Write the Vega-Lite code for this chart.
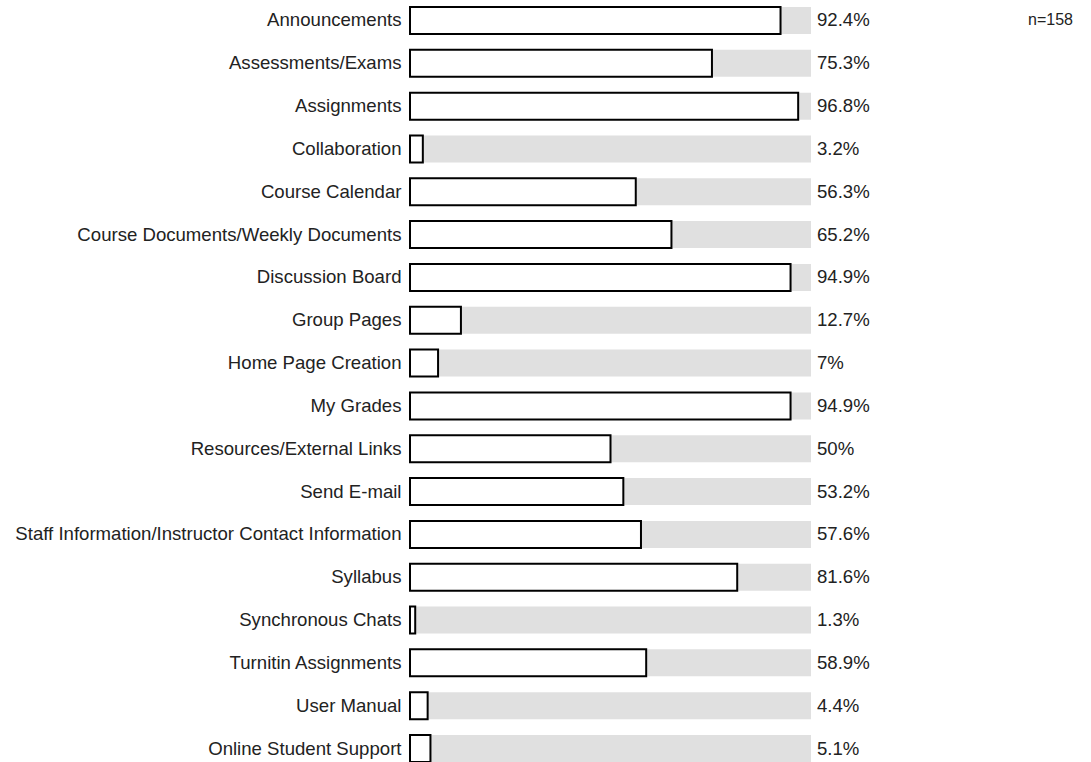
{
  "$schema": "https://vega.github.io/schema/vega-lite/v6.json",
  "autosize": "none",
  "width": 401,
  "height": 755,
  "padding": {"left": 410, "top": 7, "right": 280, "bottom": 0},
  "background": "white",
  "title": {"text": "n=158", "anchor": "end", "frame": "group", "orient": "top", "fontSize": 16, "fontWeight": "normal", "font": "Liberation Sans", "color": "#222", "dx": 262, "dy": 34, "baseline": "middle"},
  "config": {"view": {"stroke": null}, "font": "Liberation Sans"},
  "data": {"values": [
    {"item": "Announcements", "pct": 0.924},
    {"item": "Assessments/Exams", "pct": 0.753},
    {"item": "Assignments", "pct": 0.968},
    {"item": "Collaboration", "pct": 0.032},
    {"item": "Course Calendar", "pct": 0.563},
    {"item": "Course Documents/Weekly Documents", "pct": 0.652},
    {"item": "Discussion Board", "pct": 0.949},
    {"item": "Group Pages", "pct": 0.127},
    {"item": "Home Page Creation", "pct": 0.07},
    {"item": "My Grades", "pct": 0.949},
    {"item": "Resources/External Links", "pct": 0.5},
    {"item": "Send E-mail", "pct": 0.532},
    {"item": "Staff Information/Instructor Contact Information", "pct": 0.576},
    {"item": "Syllabus", "pct": 0.816},
    {"item": "Synchronous Chats", "pct": 0.013},
    {"item": "Turnitin Assignments", "pct": 0.589},
    {"item": "User Manual", "pct": 0.044},
    {"item": "Online Student Support", "pct": 0.051}
  ]},
  "encoding": {
    "y": {"field": "item", "type": "nominal", "sort": null,
      "scale": {"paddingInner": 0.37, "paddingOuter": 0},
      "axis": {"title": null, "ticks": false, "domain": false, "labelPadding": 9, "labelFontSize": 18.6, "labelColor": "#222", "labelFont": "Liberation Sans", "labelLimit": 600}}
  },
  "layer": [
    {"mark": {"type": "bar", "color": "#e0e0e0"},
     "encoding": {"x": {"datum": 1, "type": "quantitative", "scale": {"domain": [0, 1]}, "axis": null}}},
    {"mark": {"type": "bar", "fill": "white", "stroke": "black", "strokeWidth": 2},
     "encoding": {"x": {"field": "pct", "type": "quantitative", "scale": {"domain": [0, 1]}, "axis": null}}},
    {"mark": {"type": "text", "align": "left", "dx": 6, "fontSize": 18.6, "color": "#222", "baseline": "middle"},
     "encoding": {"x": {"datum": 1, "type": "quantitative"}, "text": {"field": "pct", "type": "quantitative", "format": ".1~%"}}}
  ]
}
